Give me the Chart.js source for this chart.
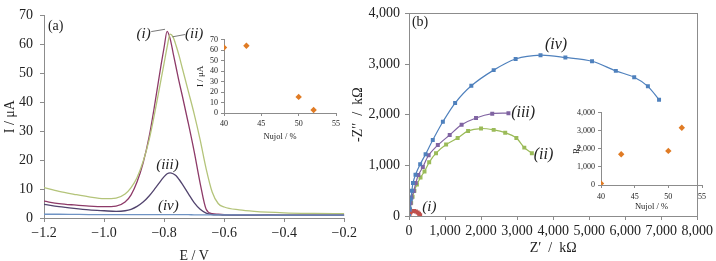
<!DOCTYPE html>
<html>
<head>
<meta charset="utf-8">
<script src="https://cdn.jsdelivr.net/npm/chart.js@4.4.0/dist/chart.umd.min.js"></script>
<style>
html, body { margin: 0; padding: 0; background: #fff; overflow: hidden; }
#wrap { position: relative; width: 716px; height: 261px; }
canvas { position: absolute; }
</style>
</head>
<body>
<div id="wrap">
  <canvas id="lsv" width="360" height="261" style="left:0;top:0"></canvas>
  <canvas id="eis" width="376" height="261" style="left:340px;top:0"></canvas>
  <canvas id="lsvInset" width="155" height="112" style="left:190px;top:32px"></canvas>
  <canvas id="eisInset" width="145" height="110" style="left:565px;top:105px"></canvas>
</div>
<script>
// ---- panel (a): stripping voltammograms ----
var potential = [-1.2, -1.15, -1.1, -1.05, -1.0, -0.96, -0.93, -0.91, -0.89, -0.87, -0.85, -0.83,
                 -0.81, -0.80, -0.79, -0.78, -0.77, -0.76, -0.75, -0.74, -0.72, -0.70, -0.68, -0.66,
                 -0.64, -0.62, -0.60, -0.55, -0.5, -0.4, -0.3, -0.2];
var currentI   = [5.8, 5.0, 4.5, 4.1, 3.9, 4.1, 5.5, 8, 12.5, 19, 28, 40,
                  53, 59, 64.5, 62, 57, 52, 47, 42.5, 33, 23, 12, 3,
                  1.5, 1.3, 1.2, 1.1, 1.1, 1.0, 1.0, 1.0];
var currentII  = [10.5, 9.2, 8.2, 7.3, 6.7, 6.9, 8.3, 10.5, 14, 19.5, 27, 37,
                  48, 53.5, 59, 63.5, 62.5, 59.5, 56, 52, 44, 36, 27, 17,
                  9, 5, 3.8, 2.8, 2.3, 1.8, 1.6, 1.5];
var currentIII = [4.7, 3.9, 3.3, 2.8, 2.5, 2.3, 2.5, 3.0, 4.0, 5.5, 7.6, 10.2,
                  13.0, 14.3, 15.3, 15.6, 15.3, 14.6, 13.3, 11.8, 8.5, 5.3, 3.0, 1.7,
                  1.2, 1.1, 1.0, 1.0, 1.0, 1.0, 1.0, 1.0];
var currentIV  = [1.3, 1.3, 1.25, 1.2, 1.2, 1.2, 1.2, 1.2, 1.2, 1.2, 1.2, 1.2,
                  1.2, 1.2, 1.2, 1.2, 1.2, 1.2, 1.2, 1.15, 1.15, 1.1, 1.1, 1.1,
                  1.1, 1.1, 1.1, 1.05, 1.05, 1.0, 1.0, 1.0];

// insets: nujol content
var nujol = [40, 43, 50, 52];
var peakCurrent = [62.7, 64.3, 15.4, 2.8];
var rp = [90, 1700, 1890, 3170];

// ---- panel (b): Nyquist plots (kOhm) ----
var zReI   = [0, 15, 35, 60, 95, 140, 190, 240, 280, 310];
var zImI   = [0, 40, 70, 90, 100, 100, 90, 70, 45, 15];
var zReII  = [0, 30, 60, 100, 150, 220, 320, 430, 560, 750, 1030, 1350, 1640, 2000, 2350, 2670, 2980, 3200, 3410];
var zImII  = [0, 130, 260, 380, 500, 620, 760, 880, 1060, 1240, 1410, 1540, 1680, 1727, 1700, 1645, 1540, 1350, 1240];
var zReIII = [0, 20, 45, 72, 134, 188, 260, 384, 545, 800, 1130, 1460, 1860, 2310, 2760];
var zImIII = [0, 120, 250, 366, 493, 651, 810, 968, 1200, 1400, 1600, 1800, 1935, 2020, 2030];
var zReIV  = [0, 20, 50, 80, 110, 180, 310, 460, 660, 940, 1280, 1730, 2350, 2960, 3650, 4340, 5080, 5740, 6250, 6630, 6940];
var zImIV  = [0, 150, 330, 500, 650, 815, 1020, 1220, 1500, 1860, 2230, 2570, 2880, 3100, 3175, 3130, 3055, 2865, 2740, 2560, 2295];

var SERIF = '"Liberation Serif", "Times New Roman", serif';
var AXIS = '#8c8c8c';
Chart.defaults.font.family = SERIF;
Chart.defaults.color = '#222';

function pairs(xs, ys) {
  return xs.map(function (v, i) { return { x: v, y: ys[i] }; });
}
function minus(s) { return String(s).replace('-', '\u2212'); }

// text labels placed in data coordinates
function notesPlugin(notes, leaders) {
  return {
    id: 'notes',
    afterDatasetsDraw: function (chart) {
      var ctx = chart.ctx, x = chart.scales.x, y = chart.scales.y;
      ctx.save();
      ctx.strokeStyle = '#555';
      ctx.lineWidth = 0.8;
      (leaders || []).forEach(function (l) {
        ctx.beginPath();
        ctx.moveTo(x.getPixelForValue(l[0]), y.getPixelForValue(l[1]));
        ctx.lineTo(x.getPixelForValue(l[2]), y.getPixelForValue(l[3]));
        ctx.stroke();
      });
      ctx.fillStyle = '#222';
      ctx.textBaseline = 'middle';
      notes.forEach(function (n) {
        ctx.font = n.font;
        ctx.textAlign = n.align || 'center';
        ctx.fillText(n.text, x.getPixelForValue(n.x), y.getPixelForValue(n.y));
      });
      ctx.restore();
    }
  };
}

var boxBorder = {
  id: 'boxBorder',
  afterDraw: function (chart) {
    var a = chart.chartArea, ctx = chart.ctx;
    ctx.save();
    ctx.strokeStyle = AXIS;
    ctx.lineWidth = 1;
    ctx.strokeRect(Math.round(a.left) + 0.5, Math.round(a.top) + 0.5,
                   Math.round(a.right - a.left), Math.round(a.bottom - a.top));
    ctx.restore();
  }
};

function scale(o) {
  return {
    type: 'linear',
    min: o.min, max: o.max,
    afterFit: o.fit,
    grid: { drawOnChartArea: false, drawTicks: true, tickLength: o.tick || 4, color: AXIS, tickColor: AXIS },
    border: { color: AXIS, width: 1 },
    ticks: { stepSize: o.step, autoSkip: false, maxRotation: 0, padding: o.pad,
             font: { size: o.size }, callback: o.cb },
    title: { display: true, text: o.title, font: { size: o.tsize, lineHeight: 1 },
             padding: o.tpad }
  };
}

var common = { responsive: false, animation: false, events: [],
               plugins: { legend: { display: false }, tooltip: { enabled: false } } };

// panel (a)
new Chart(document.getElementById('lsv'), {
  type: 'scatter',
  data: {
    datasets: [
      { data: pairs(potential, currentIV), borderColor: '#6f93c4' },
      { data: pairs(potential, currentIII), borderColor: '#52446e' },
      { data: pairs(potential, currentII), borderColor: '#b4c47a' },
      { data: pairs(potential, currentI), borderColor: '#8d3a68' }
    ].map(function (d) {
      d.showLine = true; d.pointRadius = 0; d.borderWidth = 1.3;
      d.cubicInterpolationMode = 'monotone';
      return d;
    })
  },
  options: Object.assign({}, common, {
    layout: { autoPadding: false, padding: { left: 0, right: 12, top: 6, bottom: 0 } },
    scales: {
      x: scale({ min: -1.2, max: -0.2, step: 0.2, pad: 3, size: 14, title: 'E / V', tsize: 14,
                 tpad: { top: 0, bottom: -2 }, fit: function (s) { s.height = 43; },
                 cb: function (v) { return minus(v.toFixed(1)); } }),
      y: scale({ min: 0, max: 70, step: 10, pad: 7, size: 14, title: 'I / \u03bcA', tsize: 14,
                 tpad: { top: 3, bottom: 0 }, fit: function (s) { s.width = 44; } })
    }
  }),
  plugins: [notesPlugin([
    { text: '(a)', x: -1.187, y: 66.3, align: 'left', font: '14px ' + SERIF },
    { text: '(i)', x: -0.868, y: 63.7, font: 'italic 15px ' + SERIF },
    { text: '(ii)', x: -0.70, y: 63.7, font: 'italic 15px ' + SERIF },
    { text: '(iii)', x: -0.789, y: 18.2, font: 'italic 15px ' + SERIF },
    { text: '(iv)', x: -0.786, y: 4.0, font: 'italic 15px ' + SERIF }
  ], [
    [-0.843, 64.4, -0.797, 65.2],
    [-0.730, 63.4, -0.772, 62.6]
  ])]
});

// panel (b)
new Chart(document.getElementById('eis'), {
  type: 'scatter',
  data: {
    datasets: [
      { data: pairs(zReIV, zImIV), c: '#4f81bd' },
      { data: pairs(zReIII, zImIII), c: '#8064a2' },
      { data: pairs(zReII, zImII), c: '#9bbb59' },
      { data: pairs(zReI, zImI), c: '#c0504d' }
    ].map(function (d) {
      return { data: d.data, showLine: true, tension: 0.3, borderWidth: 1.2,
               borderColor: d.c, backgroundColor: d.c, pointBackgroundColor: d.c,
               pointBorderWidth: 0, pointStyle: 'rect', pointRadius: 2.8 };
    })
  },
  options: Object.assign({}, common, {
    layout: { autoPadding: false, padding: { left: 0, right: 9, top: 5, bottom: 0 } },
    scales: {
      x: scale({ min: 0, max: 8000, step: 1000, pad: 3, size: 14, title: 'Z\u2032  /  k\u03a9', tsize: 14,
                 tpad: { top: 0, bottom: 6 }, fit: function (s) { s.height = 45; },
                 cb: function (v) { return v.toLocaleString('en-US'); } }),
      y: scale({ min: 0, max: 4000, step: 1000, pad: 5, size: 14, title: '-Z\u2032\u2032  /  k\u03a9', tsize: 14,
                 tpad: { top: 11, bottom: 0 }, fit: function (s) { s.width = 69; },
                 cb: function (v) { return v.toLocaleString('en-US'); } })
    }
  }),
  plugins: [boxBorder, notesPlugin([
    { text: '(b)', x: 80, y: 3814, align: 'left', font: '14px ' + SERIF },
    { text: '(iv)', x: 4080, y: 3378, font: 'italic 16px ' + SERIF },
    { text: '(iii)', x: 3168, y: 2030, font: 'italic 16px ' + SERIF },
    { text: '(ii)', x: 3732, y: 1214, font: 'italic 16px ' + SERIF },
    { text: '(i)', x: 564, y: 171, font: 'italic 15px ' + SERIF }
  ])]
});

// insets
function inset(id, ys, o) {
  new Chart(document.getElementById(id), {
    type: 'scatter',
    data: { datasets: [{ data: pairs(nujol, ys), pointStyle: 'rectRot', pointRadius: 3.2,
                         pointBorderWidth: 0, backgroundColor: '#e07b24', borderColor: '#e07b24' }] },
    options: Object.assign({}, common, {
      layout: { autoPadding: false, padding: { left: 0, right: o.right, top: 7, bottom: 0 } },
      scales: {
        x: scale({ min: 40, max: 55, step: 5, pad: o.xpad, size: 8, tick: 3, title: 'Nujol / %', tsize: 8.5,
                   tpad: { top: 0, bottom: o.tb }, fit: function (s) { s.height = o.xh; } }),
        y: scale({ min: 0, max: o.ymax, step: o.ystep, pad: 3, size: 8, tick: 3, title: o.ytitle, tsize: 9,
                   tpad: { top: o.tt, bottom: 0 }, fit: function (s) { s.width = o.yw; },
                   cb: function (v) { return v.toLocaleString('en-US'); } })
      }
    })
  });
}
inset('lsvInset', peakCurrent, { right: 9, xh: 31, yw: 34, xpad: 3, tb: 2.5, tt: 6.5,
                                 ymax: 70, ystep: 10, ytitle: 'I / \u03bcA' });
inset('eisInset', rp, { right: 7, xh: 30, yw: 36, xpad: 4, tb: 4, tt: 7,
                        ymax: 4000, ystep: 1000, ytitle: 'R\u209a' });
</script>
</body>
</html>
